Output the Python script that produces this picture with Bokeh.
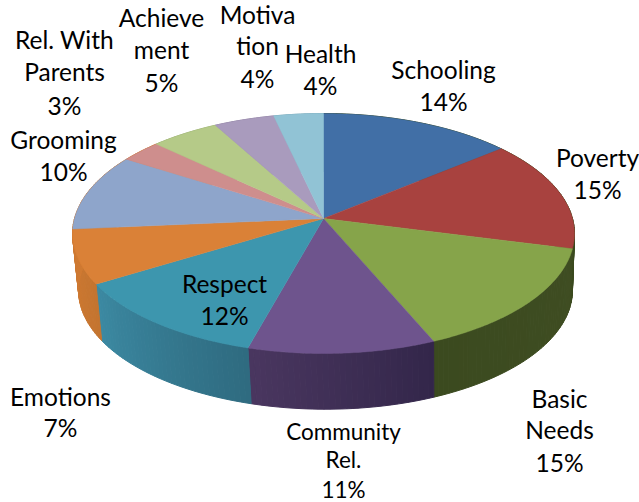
from bokeh.embed import file_html
from bokeh.resources import INLINE
from bokeh.plotting import figure
from bokeh.models import Range1d
from bokeh.core.properties import value
import numpy as np

categories = ["Schooling", "Poverty", "Basic Needs", "Community Rel.", "Respect", "Emotions",
              "Grooming", "Rel. With Parents", "Achievement", "Motivation", "Health"]
shares = [14.0, 15.0, 14.6, 10.7, 12.0, 7.3, 10.4, 3.0, 5.0, 4.4, 3.6]
top_colors = ["#416fa6", "#a8423f", "#86a44a", "#6e548d", "#3d96ae", "#da8137",
              "#8ea5cb", "#ce8e8d", "#b5ca88", "#a99bbd", "#91c3d5"]
wall_from = ["#3b4a1f", "#3b4a1f", "#3f4d22", "#33264a", "#2f6b80", "#c4742f",
             "#cf7a33", "#cf7a33", "#9aad74", "#9184a3", "#7ca8b8"]
wall_to = ["#3b4a1f", "#3b4a1f", "#3b4a1f", "#4a3760", "#3c8aa3", "#cf7a33",
           "#cf7a33", "#cf7a33", "#9aad74", "#9184a3", "#7ca8b8"]

label_lines = ["Schooling", "14%", "Poverty", "15%", "Basic", "Needs", "15%",
               "Community", "Rel.", "11%", "Respect", "12%", "Emotions", "7%",
               "Grooming", "10%", "Rel. With", "Parents", "3%", "Achieve", "ment", "5%",
               "Motiva", "tion", "4%", "Health", "4%"]

# layout of the labels, in page pixels
label_x = [443, 443, 597, 597, 559, 559, 559, 343, 343, 343, 224, 224, 60, 60,
           63, 63, 64, 64, 64, 161, 161, 161, 257, 257, 257, 320, 320]
label_y = [69, 101, 157, 189, 398, 429, 462, 431, 459, 489, 283, 315, 396, 427,
           139, 171, 39, 71, 105, 17, 49, 82, 14, 45, 78, 53, 85]
label_size = [24.5] * 27
for i in (7, 8, 9):
    label_size[i] = 22.5


def rim(theta, cx, cy, rx, ry, k=0.125):
    w = 1 + k * np.cos(theta)
    return cx + rx * np.sin(theta) / w, cy - ry * np.cos(theta) / w


def mix(a, b, t):
    ca = [int(a[i:i + 2], 16) for i in (1, 3, 5)]
    cb = [int(b[i:i + 2], 16) for i in (1, 3, 5)]
    return "#%02x%02x%02x" % tuple(round(u + (v - u) * t) for u, v in zip(ca, cb))


p = figure(width=639, height=502, output_backend="svg", toolbar_location=None,
           x_range=Range1d(0, 639), y_range=Range1d(502, 0), min_border=0,
           outline_line_color=None, x_axis_location=None, y_axis_location=None)
p.grid.visible = False

edges = np.cumsum([0] + shares) / sum(shares) * 2 * np.pi

sx, sy, sc = [], [], []
for i in range(len(shares)):
    n = max(2, int((edges[i + 1] - edges[i]) / 0.02))
    ts = np.linspace(edges[i], edges[i + 1], n + 1)
    for j in range(n):
        a = ts[j:j + 2]
        x1, y1 = rim(a, 323, 218, 249, 118.1)
        x2, y2 = rim(a[::-1], 325, 275, 245, 117)
        sx.append(np.r_[x1, x2])
        sy.append(np.r_[y1, y2])
        sc.append(mix(wall_from[i], wall_to[i], j / n))
p.patches(sx, sy, fill_color=sc, line_color=sc, line_width=1)

fx, fy = [], []
for i in range(len(shares)):
    ts = np.linspace(edges[i], edges[i + 1], 60)
    x, y = rim(ts, 323, 218, 249, 118.1)
    fx.append(np.r_[323, x])
    fy.append(np.r_[218, y])
p.patches(fx, fy, fill_color=top_colors, line_color=top_colors, line_width=0.5)

p.text(label_x, label_y, text=label_lines, text_font=value("Lato"), text_font_size=[f"{s}px" for s in label_size],
       text_align="center", text_baseline="middle", text_color="#000000")

open("out.html", "w").write(file_html(p, INLINE))
